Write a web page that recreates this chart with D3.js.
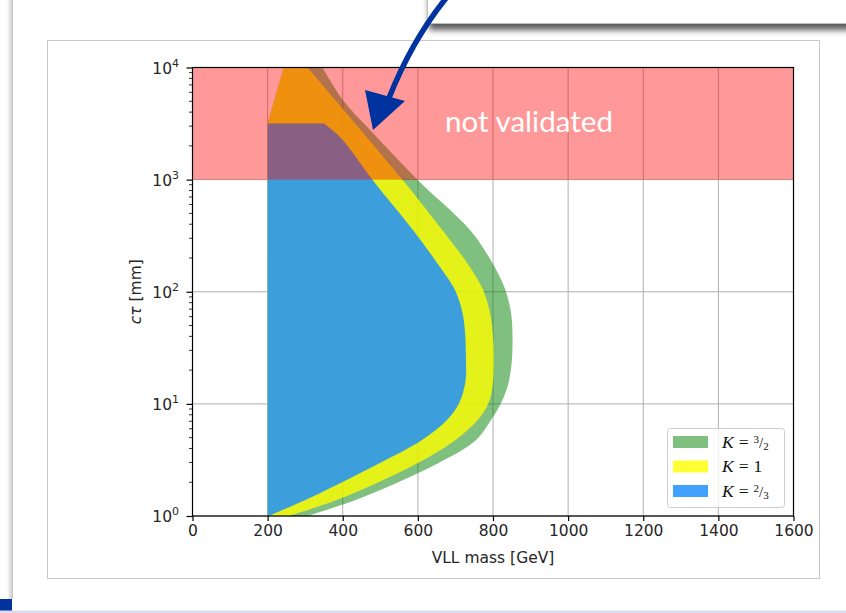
<!DOCTYPE html>
<html>
<head>
<meta charset="utf-8">
<script src="https://cdn.jsdelivr.net/npm/d3@7"></script>
<style>
  html, body { margin: 0; padding: 0; background: #fff; }
  svg { display: block; }
</style>
</head>
<body>
<svg id="slide" width="846" height="613"></svg>
<script>
// ---- data -------------------------------------------------------------
const massTicks = [0, 200, 400, 600, 800, 1000, 1200, 1400, 1600];
const ctauDecades = [1, 10, 100, 1000, 10000];
const ctauExponents = ["0", "1", "2", "3", "4"];
const notValidatedRange = [1000, 10000];

// exclusion contours [VLL mass (GeV), c*tau (mm)]; left edge bottom->top, right edge top->bottom
const leftEdgeK32 = [[200, 1], [200, 3160], [243, 10000]];
const rightEdgeK32 = [[346, 10000], [402, 5040], [474, 2740], [599, 1000], [740, 352], [799, 179],
  [822, 127], [835, 99], [848, 65], [852, 40], [849, 22], [838, 14], [820, 10], [795, 7.2],
  [755, 4.76], [655, 2.97], [455, 1.48], [306, 1]];

const leftEdgeK1 = [[200, 1], [200, 3160], [243, 10000]];
const rightEdgeK1 = [[306, 10000], [559, 1000], [666, 352], [732, 179], [760, 127], [776, 99],
  [792, 65], [800, 40], [802, 22], [797, 13], [786, 9.8], [760, 7.2], [700, 4.76], [600, 2.97],
  [405, 1.48], [256, 1]];

const leftEdgeK23 = [[200, 1], [200, 3160]];
const rightEdgeK23 = [[350, 3160], [394, 2370], [479, 1000], [588, 352], [652, 179], [683, 127],
  [701, 100], [717, 69], [725, 46], [728, 25], [727, 16], [710, 10.2], [678, 7.2], [611, 4.76],
  [499, 2.97], [318, 1.48], [202, 1]];

const legendNumerators = ["3", "1", "2"];
const legendDenominators = ["2", "", "3"];
const fillColors = ["#008000", "#ffff00", "#1e90ff"];
const fillOpacities = [0.5, 0.8, 0.85];

// ---- layout -----------------------------------------------------------
const svg = d3.select("#slide");
const x = d3.scaleLinear().domain([0, 1600]).range([192.5, 793.5]);
const y = d3.scaleLog().domain([1, 10000]).range([516, 67.5]);

const defs = svg.append("defs");
const shadow = defs.append("filter").attr("id", "boxShadow")
  .attr("x", "-5%").attr("y", "-50%").attr("width", "110%").attr("height", "250%");
shadow.append("feDropShadow").attr("dx", 2).attr("dy", 6).attr("stdDeviation", 3)
  .attr("flood-color", "#000").attr("flood-opacity", 0.65);
const lg = defs.append("linearGradient").attr("id", "edgeShade").attr("x1", 0).attr("x2", 1);
lg.append("stop").attr("offset", 0).attr("stop-color", "#fff");
lg.append("stop").attr("offset", 1).attr("stop-color", "#c4c4c4");
defs.append("clipPath").attr("id", "plotClip").append("rect")
  .attr("x", x(0)).attr("y", y(10000)).attr("width", x(1600) - x(0)).attr("height", y(1) - y(10000));

// slide furniture
svg.append("rect").attr("x", 7).attr("y", 0).attr("width", 6).attr("height", 599).attr("fill", "url(#edgeShade)");
svg.append("rect").attr("x", 0).attr("y", 599).attr("width", 12).attr("height", 14).attr("fill", "#0033a0");
svg.append("rect").attr("x", 0).attr("y", 610.5).attr("width", 846).attr("height", 2.5).attr("fill", "#dcdcee");
svg.append("rect").attr("x", 47.5).attr("y", 40.5).attr("width", 772).attr("height", 538)
  .attr("fill", "#fff").attr("stroke", "#c8c8c8").attr("stroke-width", 1);

// ---- plot -------------------------------------------------------------
const plot = svg.append("g");
const grid = plot.append("g").attr("stroke", "#b0b0b0").attr("stroke-width", 1);
grid.selectAll("line.v").data(massTicks).join("line").attr("class", "v")
  .attr("x1", d => x(d)).attr("x2", d => x(d)).attr("y1", y(1)).attr("y2", y(10000));
grid.selectAll("line.h").data(ctauDecades).join("line").attr("class", "h")
  .attr("x1", x(0)).attr("x2", x(1600)).attr("y1", d => y(d)).attr("y2", d => y(d));

const straight = d3.line().x(d => x(d[0])).y(d => y(d[1]));
const smooth = d3.line().x(d => x(d[0])).y(d => y(d[1])).curve(d3.curveCatmullRom.alpha(0.5));
const regionPath = (left, right) => straight(left) + smooth(right).replace(/^M/, "L") + "Z";

const regions = [[leftEdgeK32, rightEdgeK32], [leftEdgeK1, rightEdgeK1], [leftEdgeK23, rightEdgeK23]];
const fills = plot.append("g").attr("clip-path", "url(#plotClip)");
fills.selectAll("path").data(regions).join("path")
  .attr("d", d => regionPath(d[0], d[1]))
  .attr("fill", (d, i) => fillColors[i])
  .attr("fill-opacity", (d, i) => fillOpacities[i])
  .attr("stroke", "none");

// not-validated band
plot.append("rect")
  .attr("x", x(0)).attr("y", y(notValidatedRange[1]))
  .attr("width", x(1600) - x(0)).attr("height", y(notValidatedRange[0]) - y(notValidatedRange[1]))
  .attr("fill", "#ff0000").attr("fill-opacity", 0.4);
plot.append("text")
  .attr("x", 529).attr("y", 132)
  .attr("text-anchor", "middle")
  .attr("font-family", "Lato, 'Open Sans', sans-serif").attr("font-size", 28)
  .attr("textLength", 168).attr("lengthAdjust", "spacingAndGlyphs")
  .attr("fill", "#fff").text("not validated");

// axes
const tickFont = "'DejaVu Sans', sans-serif";
const xAxis = plot.append("g").attr("transform", `translate(0,${y(1)})`)
  .call(d3.axisBottom(x).tickValues(massTicks).tickSize(5).tickPadding(4).tickFormat(d3.format("d")));
xAxis.select(".domain").remove();
xAxis.selectAll(".tick line").attr("stroke", "#000").attr("stroke-width", 1.2);
xAxis.selectAll(".tick text").attr("font-family", tickFont).attr("font-size", 15.5).attr("fill", "#262626");

const yAxis = plot.append("g").attr("transform", `translate(${x(0)},0)`)
  .call(d3.axisLeft(y).tickValues(ctauDecades).tickSize(6).tickFormat(""));
yAxis.select(".domain").remove();
yAxis.selectAll(".tick line").attr("stroke", "#000").attr("stroke-width", 1.2);

const minorTicks = [];
ctauDecades.slice(0, -1).forEach(dec => { for (let m = 2; m <= 9; m++) minorTicks.push(m * dec); });
plot.append("g").selectAll("line").data(minorTicks).join("line")
  .attr("x1", x(0) - 3.5).attr("x2", x(0)).attr("y1", d => y(d)).attr("y2", d => y(d))
  .attr("stroke", "#000").attr("stroke-width", 0.8);

const yLabels = plot.append("g").attr("font-family", tickFont).attr("fill", "#262626");
ctauDecades.forEach((d, i) => {
  const t = yLabels.append("text").attr("x", 179).attr("y", y(d) + 6).attr("text-anchor", "end");
  t.append("tspan").attr("font-size", 15.5).text("10");
  t.append("tspan").attr("font-size", 11).attr("dy", -7).text(ctauExponents[i]);
});

// frame
plot.append("rect").attr("x", x(0)).attr("y", y(10000))
  .attr("width", x(1600) - x(0)).attr("height", y(1) - y(10000))
  .attr("fill", "none").attr("stroke", "#000").attr("stroke-width", 1.2);

// axis titles
plot.append("text").attr("x", (x(0) + x(1600)) / 2).attr("y", 563)
  .attr("text-anchor", "middle").attr("font-family", tickFont).attr("font-size", 15.5)
  .attr("fill", "#262626").text("VLL mass [GeV]");
const yt = plot.append("text").attr("transform", `translate(141,${(y(1) + y(10000)) / 2}) rotate(-90)`)
  .attr("text-anchor", "middle").attr("font-family", tickFont).attr("font-size", 15.5).attr("fill", "#262626");
yt.append("tspan").attr("font-style", "italic").text("cτ");
yt.append("tspan").text(" [mm]");

// legend
const legend = plot.append("g");
legend.append("rect").attr("x", 667.5).attr("y", 428.5).attr("width", 117).attr("height", 79)
  .attr("rx", 3).attr("fill", "#fff").attr("fill-opacity", 0.8).attr("stroke", "#cccccc");
legendNumerators.forEach((num, i) => {
  const cy = 442 + i * 24.5;
  legend.append("rect").attr("x", 673).attr("y", cy - 6).attr("width", 35).attr("height", 12)
    .attr("fill", fillColors[i]).attr("fill-opacity", fillOpacities[i]);
  const t = legend.append("text").attr("x", 722).attr("y", cy + 5.5)
    .attr("font-family", "'Liberation Serif', 'DejaVu Serif', serif").attr("font-size", 17.5).attr("fill", "#111");
  t.append("tspan").attr("font-style", "italic").text("K");
  t.append("tspan").attr("dx", 5).text("=");
  if (legendDenominators[i]) {
    t.append("tspan").attr("font-size", 11).attr("dx", 5).attr("dy", -5).text(num);
    t.append("tspan").attr("font-size", 15).attr("dy", 5).text("/");
    t.append("tspan").attr("font-size", 11).attr("dy", 2).text(legendDenominators[i]);
  } else {
    t.append("tspan").attr("dx", 5).text(num);
  }
});

// callout box and arrow
svg.append("rect").attr("x", 427.5).attr("y", -10).attr("width", 430).attr("height", 33.5)
  .attr("fill", "#fff").attr("stroke", "#c0c0c0").attr("filter", "url(#boxShadow)");
svg.append("path").attr("d", "M447,-3 Q412,40 389,98")
  .attr("fill", "none").attr("stroke", "#0033a0").attr("stroke-width", 5.5);
svg.append("path").attr("d", "M373,130 L365,90 L405,101 Z").attr("fill", "#0033a0");
</script>
</body>
</html>
